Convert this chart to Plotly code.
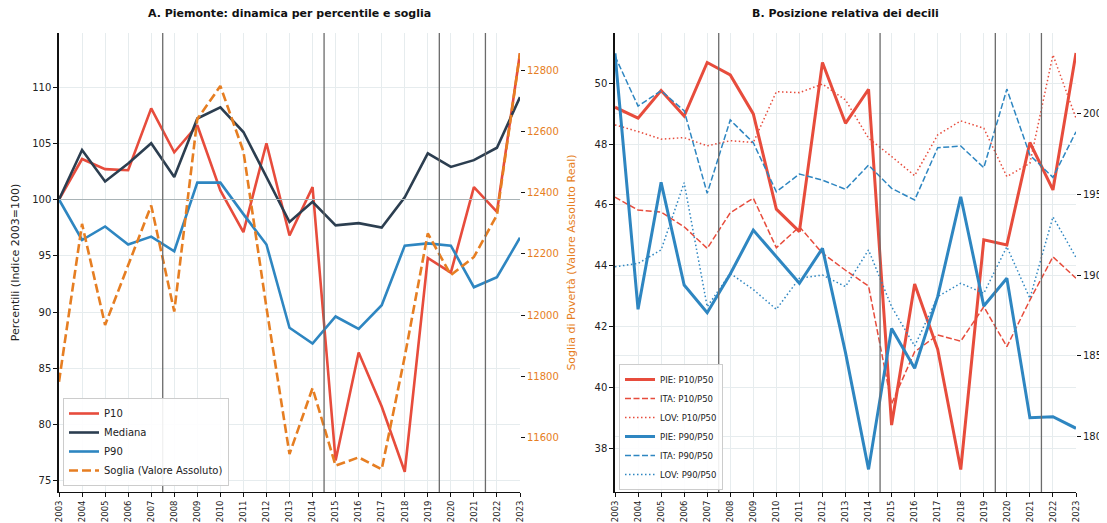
import plotly.graph_objects as go
from plotly.subplots import make_subplots

years = list(range(2003, 2024))

# Panel A: indices (2003=100)
p10_idx = [100.0, 103.6, 102.7, 102.6, 108.1, 104.2, 106.6, 100.8, 97.1, 105.0, 96.8,
           101.1, 76.8, 86.4, 81.6, 75.8, 94.8, 93.5, 101.1, 98.9, 113.0]
med_idx = [100.0, 104.4, 101.6, 103.2, 105.0, 102.0, 107.2, 108.2, 106.0, 102.0, 98.0,
           99.8, 97.7, 97.9, 97.5, 100.2, 104.1, 102.9, 103.5, 104.6, 109.1]
p90_idx = [100.0, 96.4, 97.6, 96.0, 96.7, 95.4, 101.5, 101.5, 98.7, 96.0, 88.6,
           87.2, 89.6, 88.5, 90.6, 95.9, 96.1, 95.9, 92.2, 93.1, 96.6]
soglia = [11783, 12298, 11968, 12160, 12358, 12012, 12640, 12748, 12535, 12025, 11547,
          11762, 11509, 11536, 11497, 11865, 12267, 12131, 12190, 12327, 12855]

# Panel B: relative position of deciles
pie_p10 = [49.21, 48.85, 49.76, 48.92, 50.68, 50.27, 48.99, 45.86, 45.12, 50.68, 48.68,
           49.80, 38.76, 43.40, 41.25, 37.30, 44.85, 44.68, 48.05, 46.49, 50.99]
ita_p10 = [46.25, 45.83, 45.76, 45.28, 44.57, 45.74, 46.22, 44.59, 45.28, 44.41, 43.85,
           43.33, 39.46, 41.17, 41.72, 41.52, 42.65, 41.34, 42.87, 44.29, 43.59]
lov_p10 = [48.63, 48.41, 48.16, 48.21, 47.94, 48.11, 48.05, 49.72, 49.69, 49.97, 49.45,
           48.19, 47.59, 46.96, 48.30, 48.76, 48.52, 46.93, 47.37, 50.93, 48.85]
pie_p90 = [203.71, 187.88, 195.73, 189.38, 187.67, 190.06, 192.78, 191.10, 189.49, 191.65, 185.20,
           177.98, 186.70, 184.23, 188.66, 194.84, 188.08, 189.80, 181.18, 181.24, 180.52]
ita_p90 = [203.54, 200.45, 201.40, 200.16, 195.05, 199.59, 198.18, 195.15, 196.25, 195.87, 195.30,
           196.80, 195.36, 194.64, 197.87, 197.98, 196.64, 201.50, 197.42, 196.04, 198.86]
lov_p90 = [190.51, 190.72, 191.55, 195.71, 188.04, 190.10, 189.10, 187.88, 189.80, 190.00, 189.28,
           191.55, 188.04, 185.61, 188.66, 189.49, 188.87, 191.75, 188.56, 193.60, 191.09]

breaks = [2007.5, 2014.5, 2019.5, 2021.5]
base_line = 100

left_ticks = [75, 80, 85, 90, 95, 100, 105, 110]
soglia_ticks = [11600, 11800, 12000, 12200, 12400, 12600, 12800]
rel_ticks = [38, 40, 42, 44, 46, 48, 50]
p90_ticks = [180, 185, 190, 195, 200]

RED = "#e74c3c"
DARK = "#2c3e50"
BLUE = "#2e86c1"
ORANGE = "#e67e22"
GRID = "#e6ecee"
FONT = "DejaVu Sans"

fig = make_subplots(rows=1, cols=2, specs=[[{"secondary_y": True}, {"secondary_y": True}]])

# Panel A
fig.add_trace(go.Scatter(x=years, y=p10_idx, mode="lines", name="P10",
                         line=dict(color=RED, width=2.6), legend="legend"), row=1, col=1, secondary_y=False)
fig.add_trace(go.Scatter(x=years, y=med_idx, mode="lines", name="Mediana",
                         line=dict(color=DARK, width=2.6), legend="legend"), row=1, col=1, secondary_y=False)
fig.add_trace(go.Scatter(x=years, y=p90_idx, mode="lines", name="P90",
                         line=dict(color=BLUE, width=2.6), legend="legend"), row=1, col=1, secondary_y=False)
fig.add_trace(go.Scatter(x=years, y=soglia, mode="lines", name="Soglia (Valore Assoluto)",
                         line=dict(color=ORANGE, width=2.6, dash="9px,4px"), legend="legend"),
              row=1, col=1, secondary_y=True)

# Panel B
fig.add_trace(go.Scatter(x=years, y=pie_p10, mode="lines", name="PIE: P10/P50",
                         line=dict(color=RED, width=3), legend="legend2"), row=1, col=2, secondary_y=False)
fig.add_trace(go.Scatter(x=years, y=ita_p10, mode="lines", name="ITA: P10/P50",
                         line=dict(color=RED, width=1.5, dash="6px,2.5px"), legend="legend2"), row=1, col=2, secondary_y=False)
fig.add_trace(go.Scatter(x=years, y=lov_p10, mode="lines", name="LOV: P10/P50",
                         line=dict(color=RED, width=1.5, dash="1.5px,2.5px"), legend="legend2"), row=1, col=2, secondary_y=False)
fig.add_trace(go.Scatter(x=years, y=pie_p90, mode="lines", name="PIE: P90/P50",
                         line=dict(color=BLUE, width=3), legend="legend2"), row=1, col=2, secondary_y=True)
fig.add_trace(go.Scatter(x=years, y=ita_p90, mode="lines", name="ITA: P90/P50",
                         line=dict(color=BLUE, width=1.5, dash="6px,2.5px"), legend="legend2"), row=1, col=2, secondary_y=True)
fig.add_trace(go.Scatter(x=years, y=lov_p90, mode="lines", name="LOV: P90/P50",
                         line=dict(color=BLUE, width=1.5, dash="1.5px,2.5px"), legend="legend2"), row=1, col=2, secondary_y=True)

# page body has an 8px margin: size the figure so it ends at the window edge
OFF = 8
W, H = 1107 - OFF, 523 - OFF


def px(x):
    return (x - OFF) / W


def py(y):
    return 1 - (y - OFF) / H


yd = [py(492), py(33)]
xd1 = [px(59), px(520)]
xd2 = [px(615), px(1076)]

xcommon = dict(range=[2003, 2023], tickmode="array", tickvals=years, ticktext=[str(y) for y in years],
               tickangle=-90, tickfont=dict(size=8.5, color="#222", family=FONT),
               showgrid=True, gridcolor=GRID, gridwidth=1, zeroline=False, automargin=False,
               showline=True, linecolor="#111", linewidth=1.3, ticks="outside", ticklen=4,
               tickcolor="#111", mirror=False)

fig.update_layout(
    width=W, height=H, margin=dict(l=0, r=0, t=0, b=0, autoexpand=False),
    paper_bgcolor="white", plot_bgcolor="white",
    font=dict(family=FONT, color="#222"),
    xaxis=dict(domain=xd1, **xcommon),
    xaxis2=dict(domain=xd2, **xcommon),
    yaxis=dict(domain=yd, range=[74.0, 114.8], tickvals=left_ticks, showgrid=True, gridcolor=GRID,
               zeroline=False, showline=True, linecolor="#111", linewidth=1.5, ticks="outside",
               ticklen=4, tickcolor="#111", tickfont=dict(size=10, color="#222"), automargin=False,
               title=dict(text="Percentili (Indice 2003=100)", font=dict(size=11, color="#222"), standoff=10)),
    yaxis2=dict(range=[11423, 12921], tickvals=soglia_ticks, tickformat="d", showgrid=False, zeroline=False,
                showline=False, ticks="outside", ticklen=4, tickcolor="#111", automargin=False,
                tickfont=dict(size=10, color=ORANGE),
                title=dict(text="Soglia di Povertà (Valore Assoluto Real)", font=dict(size=11, color=ORANGE), standoff=9)),
    yaxis3=dict(domain=yd, range=[36.56, 51.65], tickvals=rel_ticks, showgrid=True, gridcolor=GRID,
                zeroline=False, showline=True, linecolor="#111", linewidth=1.5, ticks="outside", automargin=False,
                ticklen=4, tickcolor="#111", tickfont=dict(size=10, color="#222")),
    yaxis4=dict(range=[176.58, 204.97], tickvals=p90_ticks, showgrid=True, gridcolor=GRID, automargin=False,
                zeroline=False, showline=False, ticks="outside", ticklen=4, tickcolor="#111",
                tickfont=dict(size=10, color="#222")),
    legend=dict(x=px(63), y=py(486), xanchor="left", yanchor="bottom", bgcolor="rgba(255,255,255,0.9)",
                bordercolor="#cccccc", borderwidth=1, font=dict(size=10, color="#222"),
                tracegroupgap=0, itemwidth=30),
    legend2=dict(x=px(619), y=py(490), xanchor="left", yanchor="bottom", bgcolor="rgba(255,255,255,0.9)",
                 bordercolor="#cccccc", borderwidth=1, font=dict(size=8.5, color="#222"),
                 tracegroupgap=0, itemwidth=30),
    showlegend=True,
)

# subplot titles
fig.add_annotation(text="<b>A. Piemonte: dinamica per percentile e soglia</b>", x=sum(xd1) / 2, y=py(22),
                   xref="paper", yref="paper", xanchor="center", yanchor="bottom", showarrow=False,
                   font=dict(size=11, color="#111"))
fig.add_annotation(text="<b>B. Posizione relativa dei decili</b>", x=sum(xd2) / 2, y=py(22),
                   xref="paper", yref="paper", xanchor="center", yanchor="bottom", showarrow=False,
                   font=dict(size=11, color="#111"))

# reference lines
fig.add_hline(y=base_line, line=dict(color="#a9b3b6", width=1.2), row=1, col=1, secondary_y=False)
for b in breaks:
    fig.add_vline(x=b, line=dict(color="#6b6b6b", width=1.3), row=1, col=1)
    fig.add_vline(x=b, line=dict(color="#6b6b6b", width=1.3), row=1, col=2)

fig.write_html("out.html")
